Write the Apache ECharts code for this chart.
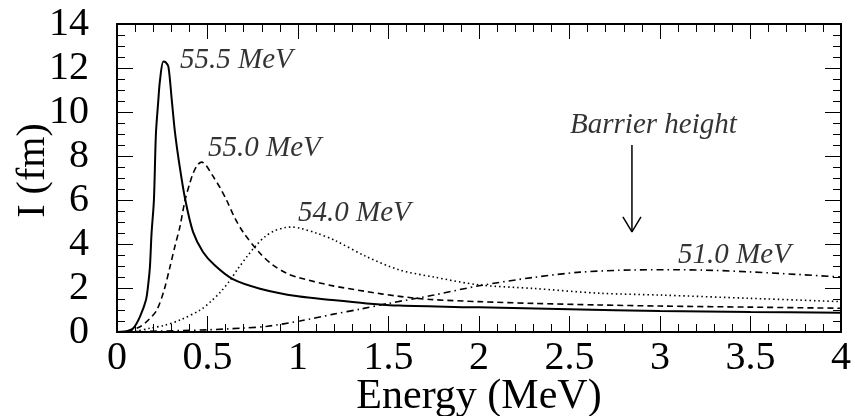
<!DOCTYPE html>
<html><head><meta charset="utf-8">
<script src="https://cdn.jsdelivr.net/npm/echarts@6/dist/echarts.min.js"></script>
<style>html,body{margin:0;padding:0;background:#fff}#c{width:855px;height:416px}</style>
</head><body><div id="c"></div>
<script>
// Energy (MeV) / I (fm) for each beam energy
const x555 = [0, 0.05, 0.09, 0.127, 0.16, 0.173, 0.182, 0.191, 0.204, 0.215, 0.228, 0.237, 0.256, 0.27, 0.284, 0.302, 0.32, 0.345, 0.376, 0.42, 0.475, 0.54, 0.64, 0.79, 1.0, 1.19, 1.38, 1.56, 2.0, 2.5, 3.0, 3.5, 4.0];
const y555 = [0, 0.03, 0.17, 0.7, 1.45, 2.2, 2.97, 4.5, 6.0, 9.0, 10.5, 11.4, 12.3, 12.25, 12.06, 10.6, 9.1, 7.6, 6.06, 4.55, 3.64, 3.03, 2.4, 1.97, 1.62, 1.45, 1.3, 1.2, 1.12, 1.03, 0.95, 0.91, 0.88];
const x550 = [0, 0.06, 0.127, 0.18, 0.22, 0.26, 0.293, 0.32, 0.348, 0.376, 0.4, 0.42, 0.445, 0.468, 0.49, 0.532, 0.57, 0.605, 0.65, 0.7, 0.79, 0.86, 0.937, 1.0, 1.18, 1.37, 1.55, 1.73, 2.0, 2.3, 2.66, 3.0, 3.5, 4.0];
const y550 = [0, 0.05, 0.24, 0.6, 1.0, 1.9, 2.97, 3.9, 4.8, 6.0, 6.7, 7.2, 7.6, 7.72, 7.6, 7.06, 6.55, 6.0, 5.2, 4.5, 3.58, 3.05, 2.67, 2.48, 2.12, 1.85, 1.63, 1.48, 1.38, 1.3, 1.23, 1.18, 1.13, 1.08];
const x540 = [0, 0.1, 0.18, 0.26, 0.35, 0.46, 0.52, 0.57, 0.62, 0.67, 0.72, 0.77, 0.82, 0.87, 0.93, 0.97, 1.01, 1.1, 1.2, 1.38, 1.56, 1.75, 2.0, 2.3, 2.67, 3.0, 3.5, 4.0];
const y540 = [0, 0.03, 0.17, 0.3, 0.55, 1.0, 1.4, 1.8, 2.3, 2.9, 3.45, 3.95, 4.35, 4.6, 4.75, 4.77, 4.72, 4.5, 4.18, 3.42, 2.82, 2.5, 2.14, 1.98, 1.76, 1.68, 1.53, 1.38];
const x510 = [0, 0.18, 0.5, 0.7, 0.83, 1.01, 1.19, 1.35, 1.5, 1.75, 2.0, 2.3, 2.56, 2.85, 3.1, 3.3, 3.48, 3.75, 4.0];
const y510 = [0, 0.03, 0.1, 0.18, 0.26, 0.5, 0.8, 1.05, 1.3, 1.68, 2.1, 2.48, 2.72, 2.82, 2.83, 2.8, 2.74, 2.62, 2.5];

const labelTexts = ['55.5 MeV', '55.0 MeV', '54.0 MeV', '51.0 MeV', 'Barrier height'];
const labelX = [0.348, 0.503, 1.0, 3.1, 2.503];
const labelY = [12.36, 8.36, 5.41, 3.5, 9.41];

const arrowX = 2.845, arrowTop = 8.5, arrowTip = 4.55;
const headDx = 0.05, headDy = 0.68;

const xMin = 0, xMax = 4, xStep = 0.5;
const yMin = 0, yMax = 14, yStep = 2;

const zip = (a, b) => a.map((v, i) => [v, b[i]]);
const FONT = 'Liberation Serif';

const baseAxis = {
  axisLine: { show: true, onZero: false, lineStyle: { color: '#000', width: 2 } },
  splitLine: { show: false },
  nameMoveOverlap: false
};

const chart = echarts.init(document.getElementById('c'), null, { renderer: 'canvas' });
chart.setOption({
  animation: false,
  backgroundColor: '#fff',
  grid: { left: 117, right: 14, top: 24, bottom: 84, containLabel: false, outerBoundsMode: 'none' },
  xAxis: [
    Object.assign({}, baseAxis, {
      type: 'value', min: xMin, max: xMax, interval: xStep, position: 'bottom',
      name: 'Energy (MeV)', nameLocation: 'middle', nameGap: 44,
      nameTextStyle: { fontFamily: FONT, fontSize: 42, color: '#000' },
      axisTick: { show: true, inside: true, length: 16, lineStyle: { color: '#000', width: 1 } },
      minorTick: { show: true, splitNumber: 5, length: 8, lineStyle: { color: '#000', width: 1 } },
      axisLabel: { fontFamily: FONT, fontSize: 40, color: '#000', margin: 6 }
    }),
    Object.assign({}, baseAxis, {
      type: 'value', min: xMin, max: xMax, interval: xStep, position: 'top',
      axisTick: { show: true, inside: true, length: 15, lineStyle: { color: '#000', width: 1 } },
      minorTick: { show: true, splitNumber: 5, length: 8, lineStyle: { color: '#000', width: 1 } },
      axisLabel: { show: false }
    })
  ],
  yAxis: [
    Object.assign({}, baseAxis, {
      type: 'value', min: yMin, max: yMax, interval: yStep, position: 'left',
      name: 'I (fm)', nameLocation: 'middle', nameGap: 64,
      nameTextStyle: { fontFamily: FONT, fontSize: 40, color: '#000', padding: [0, 0, 0, 15] },
      axisTick: { show: true, inside: true, length: 16, lineStyle: { color: '#000', width: 1 } },
      minorTick: { show: true, splitNumber: 4, length: 8, lineStyle: { color: '#000', width: 1 } },
      axisLabel: { fontFamily: FONT, fontSize: 40, color: '#000', margin: 28 }
    }),
    Object.assign({}, baseAxis, {
      type: 'value', min: yMin, max: yMax, interval: yStep, position: 'right',
      axisTick: { show: true, inside: true, length: 16, lineStyle: { color: '#000', width: 1 } },
      minorTick: { show: true, splitNumber: 4, length: 8, lineStyle: { color: '#000', width: 1 } },
      axisLabel: { show: false }
    })
  ],
  series: [
    { type: 'line', data: zip(x555, y555), smooth: 0.3, showSymbol: false, lineStyle: { color: '#000', width: 2 } },
    { type: 'line', data: zip(x550, y550), smooth: 0.3, showSymbol: false, lineStyle: { color: '#000', width: 1.6, type: [6, 4] } },
    { type: 'line', data: zip(x540, y540), smooth: 0.3, showSymbol: false, lineStyle: { color: '#000', width: 1.6, type: [1.5, 3] } },
    { type: 'line', data: zip(x510, y510), smooth: 0.3, showSymbol: false, lineStyle: { color: '#000', width: 1.6, type: [7, 4, 1.5, 4] } },
    { type: 'line', data: [[arrowX, arrowTop], [arrowX, arrowTip]], showSymbol: false, lineStyle: { color: '#000', width: 1.5 } },
    { type: 'line', data: [[arrowX - headDx, arrowTip + headDy], [arrowX, arrowTip], [arrowX + headDx, arrowTip + headDy]], showSymbol: false, lineStyle: { color: '#000', width: 1.5 } },
    {
      type: 'scatter', symbolSize: 0,
      data: labelTexts.map((t, i) => ({ value: [labelX[i], labelY[i]], name: t })),
      label: {
        show: true, position: 'right', distance: 0, formatter: p => p.name,
        fontFamily: FONT, fontStyle: 'italic', fontSize: 29, color: '#000', align: 'left', verticalAlign: 'middle'
      }
    }
  ]
});
</script></body></html>
